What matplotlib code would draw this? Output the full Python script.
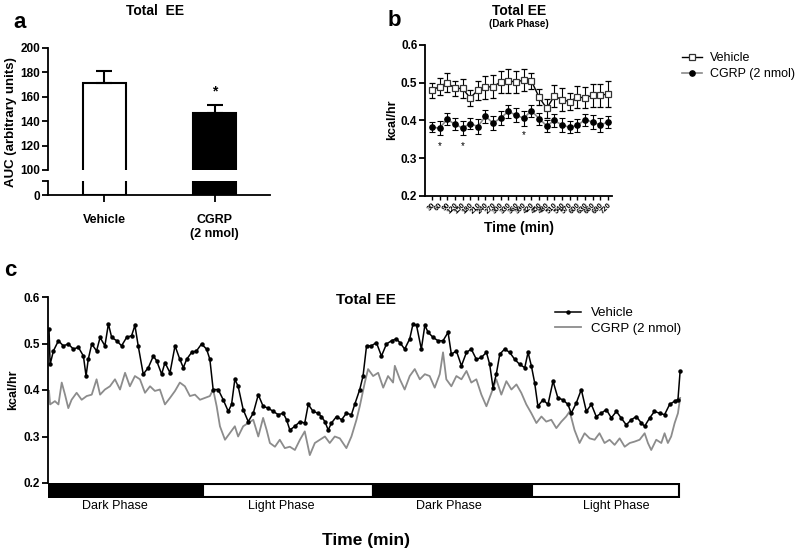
import matplotlib
matplotlib.use("Agg")
import matplotlib.pyplot as plt
from matplotlib.lines import Line2D
from matplotlib.patches import Rectangle

plt.rcParams['font.family'] = ['Liberation Sans', 'DejaVu Sans']
NARROW = ['Liberation Sans Narrow', 'Liberation Sans', 'DejaVu Sans']

# ---------------- Panel a data ----------------
a_groups = ["Vehicle", "CGRP\n(2 nmol)"]
a_auc = [171, 147]
a_err = [10, 6]

# ---------------- Panel b data ----------------
b_time = [30, 60, 90, 120, 150, 180, 210, 240, 270, 300, 330, 360,
          390, 420, 450, 480, 510, 540, 570, 600, 630, 660, 690, 720]
b_vehicle = [0.480, 0.490, 0.500, 0.485, 0.485, 0.460, 0.480, 0.488, 0.490, 0.502, 0.505, 0.502,
             0.507, 0.505, 0.462, 0.432, 0.465, 0.455, 0.450, 0.462, 0.460, 0.467, 0.467, 0.470]
b_vehicle_err = [0.020, 0.022, 0.025, 0.020, 0.025, 0.022, 0.025, 0.030, 0.030, 0.030, 0.032, 0.028,
                 0.030, 0.022, 0.022, 0.025, 0.030, 0.030, 0.022, 0.030, 0.028, 0.030, 0.030, 0.035]
b_cgrp = [0.382, 0.380, 0.403, 0.390, 0.380, 0.392, 0.384, 0.411, 0.393, 0.407, 0.424, 0.414,
          0.406, 0.426, 0.405, 0.386, 0.400, 0.388, 0.382, 0.387, 0.402, 0.396, 0.388, 0.396]
b_cgrp_err = [0.013, 0.018, 0.016, 0.016, 0.018, 0.014, 0.020, 0.018, 0.018, 0.018, 0.018, 0.018,
              0.020, 0.016, 0.016, 0.016, 0.018, 0.018, 0.016, 0.018, 0.016, 0.018, 0.018, 0.016]
b_star_time = [60, 150, 390]
b_star_y = [0.333, 0.333, 0.362]

# ---------------- Panel c data ----------------
c_vehicle_time = [0, 5, 20, 43, 65, 88, 111, 134, 157, 169, 179, 195, 217, 233, 255, 271, 286, 309,
                  331, 354, 377, 392, 407, 430, 453, 476, 491, 514, 529, 552, 575, 597, 613, 628,
                  651, 673, 696, 719, 734, 749, 772, 795, 818, 833, 848, 863, 886, 909, 932, 955,
                  977, 1000, 1023, 1046, 1069, 1084, 1099, 1122, 1145, 1167, 1183, 1205, 1228, 1243,
                  1259, 1274, 1289, 1312, 1335, 1357, 1380, 1395, 1418, 1433, 1449, 1471, 1494, 1517,
                  1540, 1563, 1585, 1601, 1623, 1646, 1661, 1677, 1699, 1715, 1730, 1753, 1775, 1798,
                  1821, 1836, 1859, 1882, 1905, 1927, 1950, 1973, 1996, 2011, 2026, 2041, 2057, 2079,
                  2102, 2125, 2148, 2171, 2186, 2201, 2216, 2231, 2254, 2277, 2300, 2322, 2345, 2368,
                  2383, 2406, 2429, 2452, 2475, 2497, 2520, 2543, 2566, 2589, 2611, 2634, 2657, 2680,
                  2703, 2718, 2741, 2763, 2786, 2809, 2832, 2855, 2870, 2880]
c_vehicle = [0.531, 0.455, 0.484, 0.506, 0.495, 0.499, 0.488, 0.492, 0.473, 0.430, 0.466, 0.499,
             0.484, 0.513, 0.495, 0.542, 0.513, 0.506, 0.495, 0.513, 0.517, 0.539, 0.495, 0.434,
             0.448, 0.473, 0.463, 0.434, 0.459, 0.437, 0.495, 0.466, 0.448, 0.466, 0.481, 0.484,
             0.499, 0.488, 0.466, 0.401, 0.401, 0.379, 0.354, 0.369, 0.423, 0.408, 0.358, 0.332,
             0.350, 0.390, 0.365, 0.361, 0.354, 0.347, 0.350, 0.336, 0.314, 0.322, 0.332, 0.329,
             0.369, 0.354, 0.350, 0.343, 0.332, 0.314, 0.329, 0.343, 0.336, 0.350, 0.347, 0.369,
             0.401, 0.430, 0.495, 0.495, 0.502, 0.473, 0.499, 0.506, 0.510, 0.502, 0.488, 0.510,
             0.542, 0.539, 0.488, 0.539, 0.524, 0.513, 0.506, 0.506, 0.524, 0.477, 0.484, 0.452,
             0.481, 0.488, 0.466, 0.470, 0.481, 0.455, 0.405, 0.434, 0.477, 0.488, 0.481, 0.466,
             0.455, 0.448, 0.481, 0.452, 0.416, 0.365, 0.379, 0.369, 0.419, 0.383, 0.379, 0.369,
             0.350, 0.372, 0.401, 0.354, 0.369, 0.343, 0.350, 0.358, 0.340, 0.354, 0.340, 0.325,
             0.336, 0.343, 0.329, 0.322, 0.340, 0.354, 0.350, 0.347, 0.369, 0.376, 0.379, 0.441]

c_cgrp_time = [0, 5, 27, 43, 58, 73, 88, 103, 126, 149, 172, 195, 217, 233, 255, 278, 301, 324,
               347, 369, 392, 415, 438, 461, 483, 506, 529, 552, 575, 597, 620, 643, 666, 689,
               711, 734, 749, 765, 780, 803, 825, 848, 863, 886, 909, 932, 955, 977, 993, 1008,
               1031, 1053, 1076, 1099, 1122, 1145, 1167, 1190, 1213, 1236, 1259, 1281, 1304, 1327,
               1357, 1380, 1403, 1418, 1441, 1456, 1479, 1502, 1525, 1547, 1570, 1578, 1601, 1623,
               1646, 1669, 1692, 1715, 1737, 1760, 1783, 1798, 1813, 1836, 1859, 1882, 1905, 1927,
               1950, 1973, 1996, 2019, 2041, 2064, 2087, 2110, 2133, 2155, 2178, 2201, 2224, 2247,
               2269, 2292, 2315, 2338, 2360, 2376, 2398, 2421, 2444, 2467, 2490, 2512, 2535, 2558,
               2581, 2604, 2627, 2650, 2672, 2695, 2718, 2733, 2748, 2771, 2794, 2809, 2824, 2839,
               2855, 2870, 2880]
c_cgrp = [0.398, 0.369, 0.376, 0.369, 0.416, 0.390, 0.361, 0.379, 0.394, 0.379, 0.387, 0.390,
          0.423, 0.390, 0.401, 0.408, 0.423, 0.401, 0.437, 0.408, 0.430, 0.423, 0.394, 0.408,
          0.398, 0.401, 0.369, 0.383, 0.398, 0.416, 0.408, 0.387, 0.390, 0.379, 0.383, 0.387,
          0.401, 0.365, 0.322, 0.293, 0.307, 0.322, 0.300, 0.322, 0.329, 0.336, 0.300, 0.340,
          0.314, 0.286, 0.278, 0.293, 0.275, 0.278, 0.271, 0.293, 0.311, 0.260, 0.286, 0.293,
          0.300, 0.286, 0.300, 0.296, 0.275, 0.300, 0.336, 0.365, 0.416, 0.445, 0.430, 0.437,
          0.405, 0.430, 0.416, 0.452, 0.423, 0.401, 0.430, 0.445, 0.423, 0.434, 0.430, 0.405,
          0.434, 0.481, 0.423, 0.408, 0.430, 0.423, 0.441, 0.416, 0.423, 0.390, 0.365, 0.394,
          0.423, 0.390, 0.419, 0.401, 0.412, 0.394, 0.369, 0.350, 0.329, 0.343, 0.332, 0.336,
          0.318, 0.332, 0.343, 0.354, 0.314, 0.286, 0.307, 0.296, 0.293, 0.307, 0.286, 0.293,
          0.282, 0.296, 0.278, 0.286, 0.289, 0.293, 0.307, 0.286, 0.271, 0.293, 0.286, 0.307,
          0.286, 0.300, 0.329, 0.350, 0.383]

phase_names = ["Dark Phase", "Light Phase", "Dark Phase", "Light Phase"]
phase_edges = [0, 702, 1477, 2202, 2877]
phase_label_pos = [301, 1062, 1824, 2590]

# ---------------- Figure ----------------
W, H = 800, 554
fig = plt.figure(figsize=(W / 100, H / 100), dpi=100)


def ax_px(l, t, r, b):
    return fig.add_axes([l / W, 1 - b / H, (r - l) / W, (b - t) / H])


def fx(x):
    return x / W


def fy(y):
    return 1 - y / H


TICKFS = 8.5

# ---------- Panel a ----------
a_pos = [0, 1]
a_colors = ["white", "black"]
a_top = ax_px(48, 48, 270, 170)
a_bot = ax_px(48, 181, 270, 195)
for ax in (a_top, a_bot):
    ax.bar(a_pos, a_auc, width=0.39, color=a_colors, edgecolor="black", linewidth=1.5)
    ax.set_xlim(-0.51, 1.5)
    ax.spines['top'].set_visible(False)
    ax.spines['right'].set_visible(False)
    ax.spines['left'].set_linewidth(1.3)
    ax.tick_params(axis='y', width=1.3, length=4, pad=1.5, labelsize=TICKFS)
a_top.errorbar(a_pos, a_auc, yerr=[[0, 0], a_err], fmt='none', ecolor='black',
               elinewidth=1.5, capsize=6, capthick=1.5)
a_top.set_ylim(100, 200)
a_top.set_yticks([100, 120, 140, 160, 180, 200])
a_top.set_yticklabels(["100", "120", "140", "160", "180", "200"], fontweight='bold', fontsize=TICKFS)
a_top.spines['bottom'].set_visible(False)
a_top.set_xticks([])
a_top.text(1, 159, "*", ha='center', va='bottom', fontsize=10, fontweight='bold')

a_bot.set_ylim(0, 10)
a_bot.set_yticks([0, 10])
a_bot.set_yticklabels(["0", ""], fontweight='bold', fontsize=TICKFS)
a_bot.spines['bottom'].set_linewidth(1.3)
a_bot.set_xticks(a_pos)
a_bot.set_xticklabels(a_groups, fontweight='bold', fontsize=9)
a_bot.tick_params(axis='x', width=1.3, length=5, pad=9)

fig.text(fx(11), fy(122), "AUC (arbitrary units)", rotation=90, ha='center', va='center',
         fontsize=9.5, fontweight='bold')
fig.text(fx(155), fy(11), "Total  EE", ha='center', va='center', fontsize=10, fontweight='bold')
fig.text(fx(20), fy(23), "a", ha='center', va='center', fontsize=16, fontweight='bold')

# ---------- Panel b ----------
axb = ax_px(425, 45, 612, 196)
axb.errorbar(b_time, b_vehicle, yerr=b_vehicle_err, fmt='-s', color='black', mfc='white',
             mec='#333333', ms=4, mew=0.9, lw=1, elinewidth=0.8, capsize=2, capthick=0.8, zorder=3)
axb.errorbar(b_time, b_cgrp, yerr=b_cgrp_err, fmt='none', ecolor='black',
             elinewidth=0.8, capsize=2, capthick=0.8, zorder=3)
axb.plot(b_time, b_cgrp, '-', color='#8a8a8a', lw=1.2, zorder=2)
axb.plot(b_time, b_cgrp, 'o', color='black', ms=3.8, zorder=4)
for t, y in zip(b_star_time, b_star_y):
    axb.text(t, y, "*", ha='center', va='center', fontsize=7)
axb.set_xlim(3, 736)
axb.set_ylim(0.2, 0.6)
axb.set_yticks([0.2, 0.3, 0.4, 0.5, 0.6])
axb.set_yticklabels(["0.2", "0.3", "0.4", "0.5", "0.6"], fontweight='bold', fontsize=TICKFS)
axb.set_xticks(b_time)
axb.set_xticklabels([str(t) for t in b_time], rotation=45, ha='right', rotation_mode='anchor',
                    fontsize=5.5, fontweight='bold')
axb.tick_params(axis='x', length=3, width=1, pad=1)
axb.tick_params(axis='y', length=4, width=1.3, pad=1.5)
axb.spines['top'].set_visible(False)
axb.spines['right'].set_visible(False)
axb.spines['left'].set_linewidth(1.3)
axb.spines['bottom'].set_linewidth(1.3)
fig.text(fx(392), fy(120), "kcal/hr", rotation=90, ha='center', va='center',
         fontsize=9, fontweight='bold')
fig.text(fx(519), fy(228), "Time (min)", ha='center', va='center', fontsize=10, fontweight='bold')
fig.text(fx(519), fy(11), "Total EE", ha='center', va='center', fontsize=10, fontweight='bold')
fig.text(fx(519), fy(24), "(Dark Phase)", ha='center', va='center', fontsize=7, fontweight='bold')
fig.text(fx(394), fy(21), "b", ha='center', va='center', fontsize=16, fontweight='bold')

hb = [Line2D([], [], color='black', lw=1, marker='s', mfc='white', mec='#333333', ms=4, mew=0.9),
      Line2D([], [], color='#8a8a8a', lw=1.2, marker='o', mfc='black', mec='black', ms=3.8)]
fig.legend(hb, ["Vehicle", "CGRP (2 nmol)"], loc='upper left', bbox_to_anchor=(fx(682), fy(52)),
           frameon=False, fontsize=9, handlelength=1.6, handletextpad=0.6, labelspacing=0.35,
           borderaxespad=0, borderpad=0)

# ---------- Panel c ----------
axc = ax_px(47.7, 297, 690, 483)
axc.plot(c_cgrp_time, c_cgrp, '-', color='#8c8c8c', lw=1.3)
axc.plot(c_vehicle_time, c_vehicle, '-o', color='black', lw=1.1, ms=2.2)
axc.set_xlim(-6, 2925)
axc.set_ylim(0.2, 0.6)
axc.set_yticks([0.2, 0.3, 0.4, 0.5, 0.6])
axc.set_yticklabels(["0.2", "0.3", "0.4", "0.5", "0.6"], fontweight='bold', fontsize=TICKFS)
axc.set_xticks([])
axc.tick_params(axis='y', length=4, width=1.3, pad=1.5)
for s in ('top', 'right', 'bottom'):
    axc.spines[s].set_visible(False)
axc.spines['left'].set_linewidth(1.3)

axp = ax_px(47.7, 483, 690, 498)
axp.set_xlim(-6, 2925)
axp.set_ylim(0, 1)
axp.axis('off')
for i, name in enumerate(phase_names):
    x0, x1 = phase_edges[i], phase_edges[i + 1]
    axp.add_patch(Rectangle((x0, 0.05), x1 - x0, 0.9, facecolor='black' if i % 2 == 0 else 'white',
                            edgecolor='black', linewidth=1.5))
    axp.text(phase_label_pos[i], -0.55, name, ha='center', va='center', fontsize=9, family=NARROW)

fig.text(fx(13), fy(390), "kcal/hr", rotation=90, ha='center', va='center',
         fontsize=9, fontweight='bold')
fig.text(fx(366), fy(300), "Total EE", ha='center', va='center', fontsize=11, fontweight='bold')
fig.text(fx(10), fy(270), "c", ha='center', va='center', fontsize=16, fontweight='bold')
fig.text(fx(366), fy(541), "Time (min)", ha='center', va='center', fontsize=12.5,
         fontweight='bold', family=NARROW)

hc = [Line2D([], [], color='black', lw=1.1, marker='o', ms=2.2),
      Line2D([], [], color='#8c8c8c', lw=1.3)]
fig.legend(hc, ["Vehicle", "CGRP (2 nmol)"], loc='upper left', bbox_to_anchor=(fx(555), fy(307)),
           frameon=False, fontsize=9.5, handlelength=2.0, handletextpad=0.7, labelspacing=0.25,
           borderaxespad=0, borderpad=0)

fig.savefig("out.png", dpi=100)
